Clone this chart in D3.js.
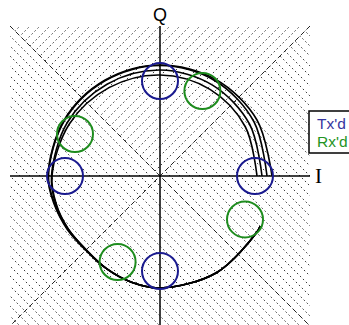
<!DOCTYPE html>
<html>
<head>
<meta charset="utf-8">
<script src="https://cdn.jsdelivr.net/npm/d3@7"></script>
<style>
  body { margin: 0; background: #fff; }
  svg { display: block; }
</style>
</head>
<body>
<svg id="chart" width="349" height="325"></svg>
<script>
// Transmitted symbols (QPSK) in the I/Q plane
const txI = [0.95, 0, -0.95, 0];
const txQ = [0, 0.95, 0, -0.95];
// Received symbols after the carrier phase offset
const rxI = [0.85, 0.424, -0.85, -0.424];
const rxQ = [-0.434, 0.85, 0.42, -0.86];
const symbolRadius = 0.18;

// Phase-rotation traces: phase (degrees) and magnitude at each sample
const tracePhase = [0, 30, 60, 90, 120, 150, 180, 195, 210, 225, 240, 255, 270, 300, 330, 333.5];
const traceMag1 = [0.97, 0.985, 1.0, 1.01, 1.02, 1.045, 1.08, 1.075, 1.06, 1.045, 1.07, 1.10, 1.12, 1.12, 1.12, 1.12];
const traceMag2 = [1.02, 1.035, 1.05, 1.06, 1.06, 1.07, 1.085, 1.08, 1.06, 1.045, 1.07, 1.10, 1.12, 1.12, 1.12, 1.12];
const traceMag3 = [1.07, 1.085, 1.10, 1.105, 1.10, 1.105, 1.115, 1.09, 1.065, 1.045, 1.07, 1.10, 1.12, 1.12, 1.12, 1.12];
const traceMag4 = [1.12, 1.12, 1.115, 1.11, 1.105, 1.11, 1.12, 1.095, 1.07, 1.05, 1.07, 1.10, 1.12, 1.12, 1.12, 1.12];

const axisLabels = ["I", "Q"];
const legendLabels = ["Tx'd", "Rx'd"];

const colors = { tx: "#1a1a8e", rx: "#1e8c1e", trace: "#000" };

const svg = d3.select("#chart");
const x = d3.scaleLinear().domain([-1.5, 1.5]).range([10, 310]);
const y = d3.scaleLinear().domain([-1.5, 1.5]).range([326, 26]);
const r = d3.scaleLinear().domain([0, 1.5]).range([0, 150]);

const x0 = x(0), y0 = y(0);
const L = x(-1.5), R = x(1.5), T = y(1.5), B = y(-1.5);

// Decision regions: four triangles split by the diagonals
const regions = [
  { id: "top",    pts: [[L, T], [R, T], [x0, y0]], dir: "/" },
  { id: "right",  pts: [[R, T], [R, B], [x0, y0]], dir: "\\" },
  { id: "bottom", pts: [[L, B], [R, B], [x0, y0]], dir: "\\" },
  { id: "left",   pts: [[L, T], [L, B], [x0, y0]], dir: "\\" }
];

const defs = svg.append("defs");
regions.forEach(reg => {
  defs.append("clipPath").attr("id", "clip-" + reg.id)
    .append("polygon").attr("points", reg.pts.map(p => p.join(",")).join(" "));
});

const hatch = svg.append("g");
const step = 10;
regions.forEach(reg => {
  const g = hatch.append("g").attr("clip-path", `url(#clip-${reg.id})`);
  const offsets = d3.range(-400, 400, step);
  g.selectAll("line").data(offsets).join("line")
    .attr("x1", c => x0 + c - 200)
    .attr("y1", c => reg.dir === "/" ? y0 + 200 : y0 - 200)
    .attr("x2", c => x0 + c + 200)
    .attr("y2", c => reg.dir === "/" ? y0 - 200 : y0 + 200)
    .attr("stroke", "#3a3a3a")
    .attr("stroke-width", 1)
    .attr("stroke-dasharray", "1.6,2.6");
});

// Region boundaries (dashed diagonals)
svg.append("g").selectAll("line")
  .data([[L, T, R, B], [R, T, L, B]])
  .join("line")
  .attr("x1", d => d[0]).attr("y1", d => d[1])
  .attr("x2", d => d[2]).attr("y2", d => d[3])
  .attr("stroke", "#222").attr("stroke-width", 1)
  .attr("stroke-dasharray", "5,3");

// I and Q axes
svg.append("line").attr("x1", L).attr("x2", R).attr("y1", y0).attr("y2", y0)
  .attr("stroke", "#000").attr("stroke-width", 1.5);
svg.append("line").attr("x1", x0).attr("x2", x0).attr("y1", T).attr("y2", B)
  .attr("stroke", "#000").attr("stroke-width", 1.5);

svg.append("text").attr("x", x0).attr("y", 21)
  .attr("text-anchor", "middle")
  .attr("font-family", "Liberation Sans, Arial, sans-serif")
  .attr("font-size", 18).text(axisLabels[1]);
svg.append("text").attr("x", 318.5).attr("y", 183)
  .attr("text-anchor", "middle")
  .attr("font-family", "Liberation Serif, Times New Roman, serif")
  .attr("font-size", 21).text(axisLabels[0]);

// Phase-rotation traces
const radial = d3.lineRadial()
  .angle(d => Math.PI / 2 - d[0] * Math.PI / 180)
  .radius(d => r(d[1]))
  .curve(d3.curveCatmullRom.alpha(0.5));
const traces = [traceMag1, traceMag2, traceMag3, traceMag4]
  .map(m => tracePhase.map((p, i) => [p, m[i]]));
svg.append("g").attr("transform", `translate(${x0},${y0})`)
  .selectAll("path").data(traces).join("path")
  .attr("d", radial)
  .attr("fill", "none").attr("stroke", colors.trace).attr("stroke-width", 1.6);

// Symbol circles
const symR = r(symbolRadius);
svg.append("g").selectAll("circle").data(txI.map((v, i) => [v, txQ[i]]))
  .join("circle")
  .attr("cx", d => x(d[0])).attr("cy", d => y(d[1])).attr("r", symR)
  .attr("fill", "none").attr("stroke", colors.tx).attr("stroke-width", 2);
svg.append("g").selectAll("circle").data(rxI.map((v, i) => [v, rxQ[i]]))
  .join("circle")
  .attr("cx", d => x(d[0])).attr("cy", d => y(d[1])).attr("r", symR)
  .attr("fill", "none").attr("stroke", colors.rx).attr("stroke-width", 2);

// Legend
const lg = svg.append("g");
lg.append("rect").attr("x", 309).attr("y", 111).attr("width", 45).attr("height", 42)
  .attr("fill", "#fff").attr("stroke", "#000").attr("stroke-width", 1.5);
lg.selectAll("text").data(legendLabels).join("text")
  .attr("x", 317).attr("y", (d, i) => 129 + i * 18)
  .attr("font-family", "Liberation Sans, Arial, sans-serif")
  .attr("font-size", 15.5)
  .attr("fill", (d, i) => i === 0 ? "#3535a0" : "#239423")
  .text(d => d);
</script>
</body>
</html>
